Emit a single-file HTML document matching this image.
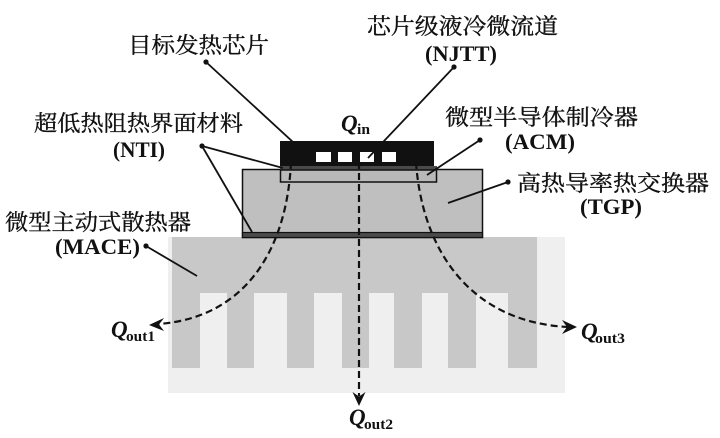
<!DOCTYPE html>
<html><head><meta charset="utf-8"><style>
html,body{margin:0;padding:0;background:#fff;}
svg{display:block;}
.cjk{font-family:"Liberation Serif","Noto Serif CJK SC",serif;font-size:22px;fill:#111;stroke:#111;stroke-width:0.35px;}
.lat{font-family:"Liberation Serif",serif;font-size:22px;font-weight:bold;fill:#111;}
.q{font-family:"Liberation Serif",serif;font-size:23px;font-weight:bold;font-style:italic;fill:#111;}
.sub{font-family:"Liberation Serif",serif;font-size:15px;font-weight:bold;fill:#111;}
</style></head><body>
<svg width="720" height="438" viewBox="0 0 720 438" xmlns="http://www.w3.org/2000/svg">
<!-- heatsink -->
<rect x="168" y="237" width="397" height="156" fill="#efefef"/>
<path d="M172,237 H537 V368 H508 V293 H476 V368 H448 V293 H422 V368 H394 V293 H369 V368 H342 V293 H314 V368 H287 V293 H254 V368 H227 V293 H200 V368 H172 Z" fill="#c8c8c8"/>
<!-- TGP -->
<rect x="242.5" y="169.5" width="240" height="68" fill="#bfbfbf" stroke="#111" stroke-width="1.5"/>
<rect x="242.5" y="232.5" width="240" height="5" fill="#4a4a4a" stroke="#111" stroke-width="1.2"/>
<!-- chip -->
<rect x="280" y="141" width="154" height="27" fill="#111"/>
<rect x="280" y="166" width="157" height="4" fill="#4a4a4a"/>
<rect x="280.5" y="170" width="156" height="12" fill="#b9b9b9" stroke="#111" stroke-width="1.5"/>
<rect x="316" y="152" width="15" height="10" fill="#fff"/>
<rect x="338" y="152" width="14" height="10" fill="#fff"/>
<rect x="360" y="152" width="14" height="10" fill="#fff"/>
<rect x="382" y="152" width="14" height="10" fill="#fff"/>
<!-- dashed heat paths -->
<g fill="none" stroke="#111" stroke-width="2.2" stroke-dasharray="7,4">
<path d="M291,162 C287,250 245,318 158,324"/>
<path d="M416,162 C422,250 470,322 568,327"/>
<path d="M359,162 V396"/>
</g>
<g fill="#111">
<polygon points="149,325 164,318 159,324.5 164,331"/>
<polygon points="577,327 562,320 567,327 562,334"/>
<polygon points="359,406 352.5,392 359,396.5 365.5,392"/>
</g>
<!-- leader lines -->
<g stroke="#111" stroke-width="1.8" fill="none">
<line x1="206" y1="62" x2="306" y2="154"/>
<line x1="202" y1="146" x2="283" y2="168"/>
<line x1="202" y1="146" x2="252" y2="232"/>
<line x1="454" y1="67" x2="368" y2="158"/>
<line x1="480" y1="140" x2="427" y2="175"/>
<line x1="508" y1="182" x2="448" y2="203"/>
<line x1="146" y1="246" x2="197" y2="276"/>
</g>
<g fill="#111">
<circle cx="206" cy="62" r="2.6"/>
<circle cx="202" cy="146" r="2.6"/>
<circle cx="454" cy="67" r="2.6"/>
<circle cx="480" cy="140" r="2.6"/>
<circle cx="508" cy="182" r="2.6"/>
<circle cx="146" cy="246" r="2.6"/>
</g>
<!-- labels -->
<text class="cjk" x="128" y="53" textLength="141" lengthAdjust="spacingAndGlyphs">目标发热芯片</text>
<text class="cjk" x="34" y="131" textLength="209" lengthAdjust="spacingAndGlyphs">超低热阻热界面材料</text>
<text class="lat" x="113" y="157" textLength="52" lengthAdjust="spacingAndGlyphs">(NTI)</text>
<text class="cjk" x="367" y="34" textLength="191" lengthAdjust="spacingAndGlyphs">芯片级液冷微流道</text>
<text class="lat" x="425" y="61" textLength="72" lengthAdjust="spacingAndGlyphs">(NJTT)</text>
<text class="cjk" x="445" y="125" textLength="193" lengthAdjust="spacingAndGlyphs">微型半导体制冷器</text>
<text class="lat" x="505" y="149" textLength="70" lengthAdjust="spacingAndGlyphs">(ACM)</text>
<text class="cjk" x="517" y="191" textLength="192" lengthAdjust="spacingAndGlyphs">高热导率热交换器</text>
<text class="lat" x="580" y="214" textLength="62" lengthAdjust="spacingAndGlyphs">(TGP)</text>
<text class="cjk" x="5" y="230" textLength="186" lengthAdjust="spacingAndGlyphs">微型主动式散热器</text>
<text class="lat" x="55" y="254" textLength="85" lengthAdjust="spacingAndGlyphs">(MACE)</text>
<!-- Q labels -->
<text class="q" x="341" y="131">Q</text>
<text class="sub" x="357" y="134" textLength="13" lengthAdjust="spacingAndGlyphs">in</text>
<text class="q" x="111" y="337">Q</text>
<text class="sub" x="126" y="341" textLength="29" lengthAdjust="spacingAndGlyphs">out1</text>
<text class="q" x="349" y="425">Q</text>
<text class="sub" x="364" y="429" textLength="29" lengthAdjust="spacingAndGlyphs">out2</text>
<text class="q" x="581" y="339">Q</text>
<text class="sub" x="595" y="343" textLength="30" lengthAdjust="spacingAndGlyphs">out3</text>
</svg>
</body></html>
